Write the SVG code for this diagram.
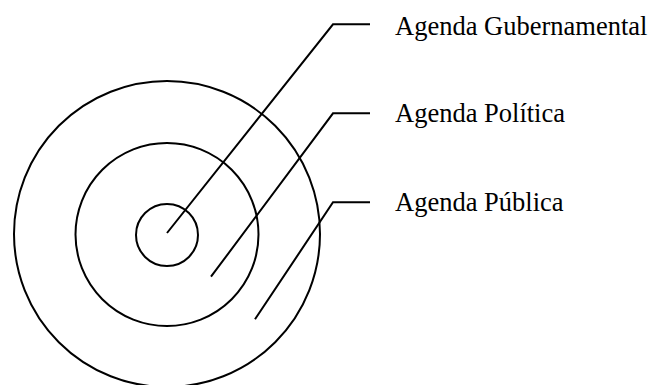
<svg xmlns="http://www.w3.org/2000/svg" width="649" height="385" viewBox="0 0 649 385">
<style>
.c{fill:none;stroke:#000;stroke-width:2}
.l{fill:none;stroke:#000;stroke-width:2}
.t{font-family:"Liberation Serif","Times New Roman",serif;font-size:26.5px;fill:#000}
</style>
<rect width="649" height="385" fill="#fff"/>
<g id="outer"><circle class="c" cx="167" cy="234" r="153"/></g>
<g id="middle"><circle class="c" cx="167" cy="234.5" r="91.5"/></g>
<g id="inner"><circle class="c" cx="167" cy="235" r="31"/></g>
<g id="connectors">
<polyline class="l" points="167,233 333,24.3 370,24.3"/>
<polyline class="l" points="211,276.7 333,113.3 370,113.3"/>
<polyline class="l" points="255,319.3 333,202.3 370,202.3"/>
</g>
<g id="label-gubernamental"><text class="t" x="395" y="35">Agenda Gubernamental</text></g>
<g id="label-politica"><text class="t" x="395" y="122">Agenda Política</text></g>
<g id="label-publica"><text class="t" x="395" y="211">Agenda Pública</text></g>
</svg>
